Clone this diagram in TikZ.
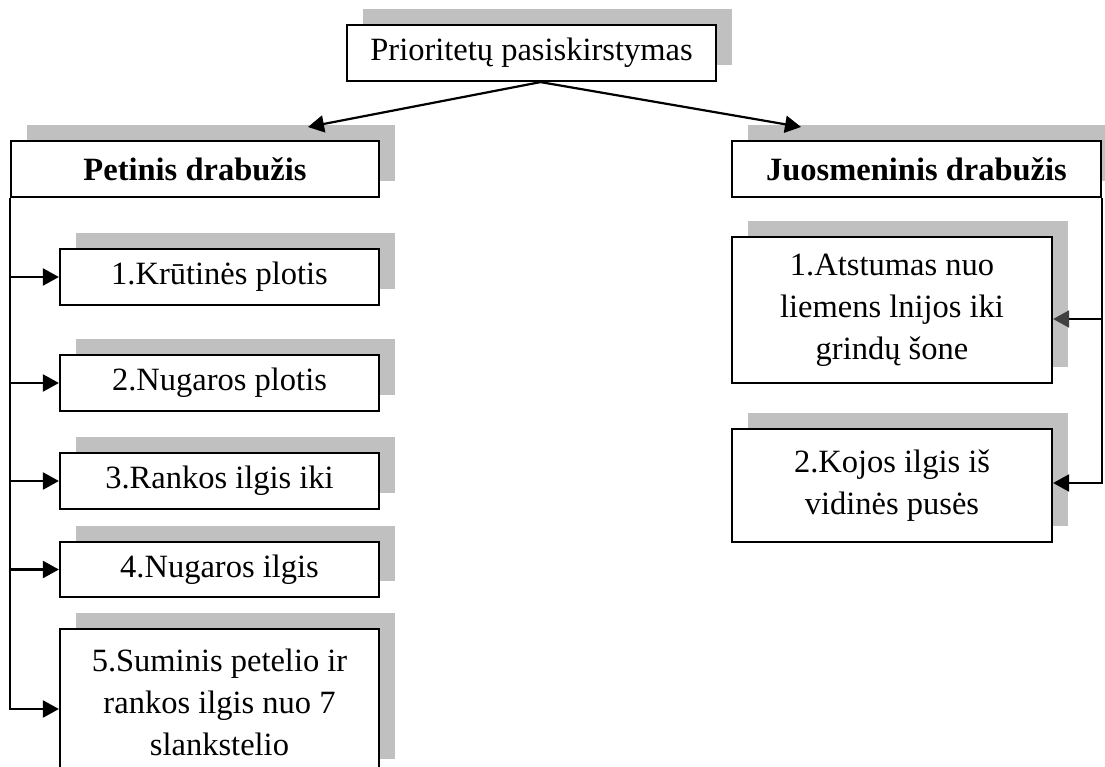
\documentclass[tikz,border=0pt]{standalone}
\usepackage{fontspec}
\setmainfont{Liberation Serif}
\usetikzlibrary{shadows,arrows.meta,calc}
\definecolor{shadowgrey}{RGB}{192,192,192}
\definecolor{tipgrey}{RGB}{64,64,64}
\tikzset{
  x=1pt, y=-1pt,
  box/.style={draw=black, line width=2.2pt, fill=white, inner sep=0pt,
    align=center, font=\fontsize{32.5}{42}\selectfont,
    general shadow={fill=shadowgrey, shadow xshift=16pt, shadow yshift=16pt}},
  titlebox/.style={box, font=\fontsize{32.5}{42}\selectfont\bfseries},
  link/.style={line width=2.2pt, -{Triangle[length=16pt,width=17pt]}},
}
\begin{document}
\begin{tikzpicture}
\useasboundingbox (0,0) rectangle (1105,767);
\clip (0,0) rectangle (1105,767);

% root and the two garment groups
\node[box, minimum width=369, minimum height=56] (top) at (531.5,53) {Prioritetų pasiskirstymas};
\node[titlebox, minimum width=368, minimum height=56] (pet) at (195,169) {Petinis drabužis};
\node[titlebox, minimum width=369, minimum height=56] (juo) at (916.5,169) {Juosmeninis drabužis};

% upper garment measurements
\node[box, minimum width=319, minimum height=56] (i1) at (219.5,277) {1.Krūtinės plotis};
\node[box, minimum width=319, minimum height=56] (i2) at (219.5,383) {2.Nugaros plotis};
\node[box, minimum width=319, minimum height=56] (i3) at (219.5,481) {3.Rankos ilgis iki};
\node[box, minimum width=319, minimum height=55] (i4) at (219.5,569.5) {4.Nugaros ilgis};
\node[box, minimum width=319, minimum height=146] (i5) at (219.5,702) {5.Suminis petelio ir\\rankos ilgis nuo 7\\slankstelio};

% lower garment measurements
\node[box, minimum width=320, minimum height=146] (r1) at (892,310) {1.Atstumas nuo\\liemens lnijos iki\\grindų šone};
\node[box, minimum width=320, minimum height=113] (r2) at (892,485.5) {2.Kojos ilgis iš\\vidinės pusės};

% arrow end points
\coordinate (lt) at (308,127);
\coordinate (rt) at (801,127);
\coordinate (apex) at ([xshift=9pt]top.south);
\coordinate (i5in) at ([yshift=-7pt]i5.west);
\coordinate (r1in) at ([yshift=-9pt]r1.east);
\coordinate (r2in) at ([yshift=2.5pt]r2.east);

% connectors from the root
\draw[link] (apex) -- (lt);
\draw[link] (apex) -- (rt);

% left spine with branches
\draw[link] (pet.south west) |- (i5in);
\draw[link] (pet.south west |- i1.west) -- (i1.west);
\draw[link] (pet.south west |- i2.west) -- (i2.west);
\draw[link] (pet.south west |- i3.west) -- (i3.west);
\draw[link] (pet.south west |- i4.west) -- (i4.west);

% right spine with branches
\draw[link] (juo.south east) |- (r2in);
\draw[line width=2.2pt, -{Triangle[length=16pt,width=17pt,fill=tipgrey,color=tipgrey]}]
  (juo.south east |- r1in) -- (r1in);
\end{tikzpicture}
\end{document}
